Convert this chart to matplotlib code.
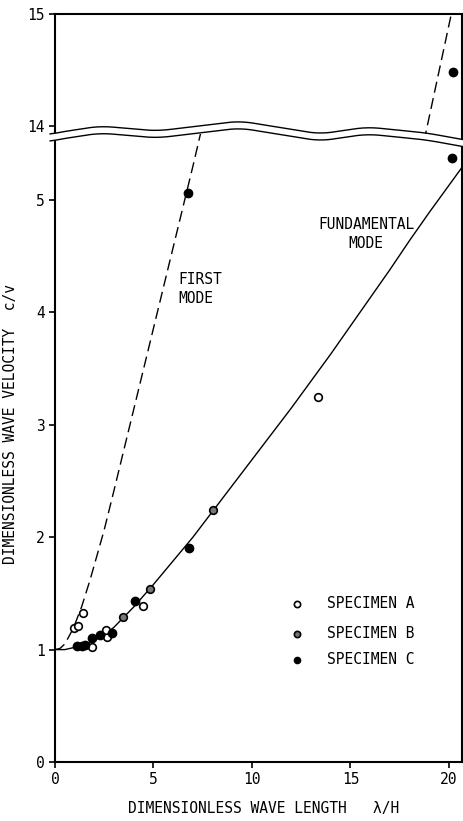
import numpy as np
import matplotlib
matplotlib.use('Agg')
import matplotlib.pyplot as plt
from matplotlib.patches import Polygon

# dados
spec_a_x = [0.95, 1.18, 1.44, 1.86, 2.62, 2.6, 4.45, 13.37]
spec_a_y = [1.19, 1.21, 1.33, 1.02, 1.11, 1.17, 1.39, 3.25]

spec_b_x = [3.43, 4.82, 8.04]
spec_b_y = [1.29, 1.54, 2.24]

spec_c_x = [1.13, 1.35, 1.52, 1.86, 2.28, 2.88, 4.06, 6.8, 6.75, 20.15, 20.2]
spec_c_y = [1.03, 1.03, 1.04, 1.10, 1.13, 1.15, 1.43, 1.90, 5.06, 5.37, 14.48]

fund_x = [0, 0.5, 1, 1.5, 2, 2.5, 3, 3.5, 4, 4.5, 5, 6, 7, 8, 9, 10, 11, 12, 13, 14, 15, 16, 17, 18, 19, 20.7]
fund_y = [1.0, 1.0, 1.02, 1.04, 1.08, 1.13, 1.2, 1.29, 1.38, 1.48, 1.58, 1.79, 2.0, 2.23, 2.46, 2.69, 2.92, 3.15, 3.39, 3.63, 3.88, 4.13, 4.38, 4.64, 4.89, 5.30]

first_x = [0, 0.25, 0.5, 0.93, 1.35, 1.78, 2.12, 2.49, 3, 4, 5, 6, 7, 7.4, 10, 14, 18.8, 20.3]
first_y = [1.0, 1.01, 1.05, 1.19, 1.38, 1.62, 1.83, 2.06, 2.42, 3.14, 3.86, 4.58, 5.3, 5.6, 7.5, 10.4, 13.92, 15.15]

fonte = 'DejaVu Sans Mono'
plt.rcParams['font.family'] = fonte
plt.rcParams['font.size'] = 10.5

W, H = 464, 821
fig = plt.figure(figsize=(W / 100, H / 100), dpi=100)

left = 55 / W
width = 407 / W
ax_bot = fig.add_axes([left, 1 - 762 / H, width, (762 - 134) / H])
ax_top = fig.add_axes([left, 1 - 134 / H, width, (134 - 14) / H])

dash = (0, (8, 4))
for ax in (ax_bot, ax_top):
    ax.plot(fund_x, fund_y, color='black', lw=1.0)
    ax.plot(first_x, first_y, color='black', lw=1.0, linestyle=dash)
    ax.plot(spec_a_x, spec_a_y, 'o', ms=5.5, mfc='white', mec='black', mew=1.2, ls='none')
    ax.plot(spec_b_x, spec_b_y, 'o', ms=5.5, mfc='#777777', mec='black', mew=1.2, ls='none')
    ax.plot(spec_c_x, spec_c_y, 'o', ms=6, mfc='black', mec='black', ls='none')
    ax.set_xlim(0, 20.66)
    for s in ax.spines.values():
        s.set_linewidth(1.5)
    ax.tick_params(direction='out', length=4, width=1.2, labelsize=10.5)

ax_bot.set_ylim(0, 628 / 112.4)
ax_bot.set_yticks([0, 1, 2, 3, 4, 5])
ax_bot.set_xticks([0, 5, 10, 15, 20])
ax_bot.spines['top'].set_visible(False)

ax_top.set_ylim(15 - 120 / 112, 15)
ax_top.set_yticks([14, 15])
ax_top.set_xticks([])
ax_top.spines['bottom'].set_visible(False)

# legenda
leg_y = [1.41, 1.14, 0.91]
ax_bot.plot([12.27], [leg_y[0]], 'o', ms=4.5, mfc='white', mec='black', mew=1.2)
ax_bot.plot([12.27], [leg_y[1]], 'o', ms=4.5, mfc='#777777', mec='black', mew=1.2)
ax_bot.plot([12.27], [leg_y[2]], 'o', ms=4.5, mfc='black', mec='black')
for yy, nome in zip(leg_y, ['SPECIMEN A', 'SPECIMEN B', 'SPECIMEN C']):
    ax_bot.text(13.8, yy, nome, va='center', ha='left', fontsize=10.5)

ax_bot.text(6.24, 4.21, 'FIRST\nMODE', ha='left', va='center', fontsize=10.5, linespacing=1.3)
ax_bot.text(15.8, 4.7, 'FUNDAMENTAL\nMODE', ha='center', va='center', fontsize=10.5, linespacing=1.3)

fig.text(264 / W, 1 - 808 / H, 'DIMENSIONLESS WAVE LENGTH   λ/H', ha='center', va='center', fontsize=10.5)
fig.text(11 / W, 1 - 424 / H, 'DIMENSIONLESS WAVE VELOCITY  c/v', ha='center', va='center',
         rotation=90, fontsize=10.5)

# quebra do eixo (linhas onduladas)
ctrl_x = [48, 55, 100, 157, 240, 320, 367, 427, 470]
ctrl_y = [135, 133, 126, 131, 121, 134, 127, 133, 141]
xs = np.linspace(48, 470, 400)
ys = np.interp(xs, ctrl_x, ctrl_y)
k = 12
ys = np.convolve(np.pad(ys, k, mode='edge'), np.ones(2 * k + 1) / (2 * k + 1), mode='valid')
ys_low = ys + 7
pts = np.vstack([np.column_stack([xs, ys]), np.column_stack([xs[::-1], ys_low[::-1]])])
pts_fig = np.column_stack([pts[:, 0] / W, 1 - pts[:, 1] / H])
fig.patches.append(Polygon(pts_fig, closed=True, facecolor='white', edgecolor='none',
                           transform=fig.transFigure, zorder=10))
xs_in = (xs >= 50) & (xs <= 463)
fig.add_artist(plt.Line2D(xs[xs_in] / W, 1 - ys[xs_in] / H, color='black', lw=1.0,
                          transform=fig.transFigure, zorder=11))
fig.add_artist(plt.Line2D(xs[xs_in] / W, 1 - ys_low[xs_in] / H, color='black', lw=1.0,
                          transform=fig.transFigure, zorder=11))

fig.savefig('out.png', dpi=100, facecolor='white')
